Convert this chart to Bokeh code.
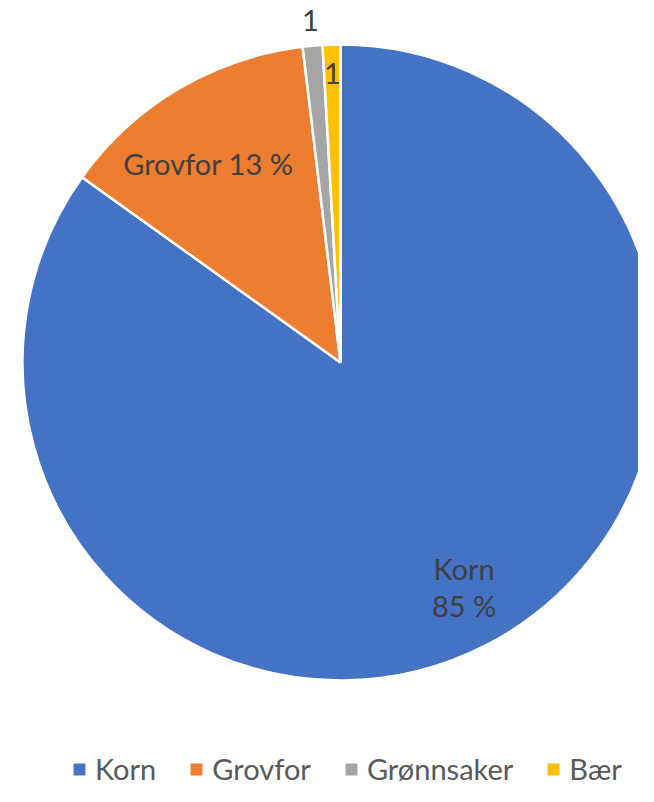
import math
from bokeh.plotting import figure
from bokeh.models import ColumnDataSource, Range1d, Legend, LegendItem
from bokeh.core.properties import value
from bokeh.embed import file_html
from bokeh.resources import INLINE

# ---- data ----
categories = ["Korn", "Grovfor", "Grønnsaker", "Bær"]
shares = [84.9, 13.2, 1.0, 0.9]
labels = ["Korn\n85 %", "Grovfor 13 %", "1", "1"]

# ---- style ----
colors = ["#4472C4", "#ED7D31", "#A5A5A5", "#FFC000"]
label_radius = [0.805, 0.751, 1.08, 0.91]
label_shift_deg = [-1.7, -3.0, 0.0, 0.0]
CX, CY, R = 340, 440, 318

total = sum(shares)
starts, ends, mids = [], [], []
cum = 0.0
for s in shares:
    a0 = cum / total * 2 * math.pi
    cum += s
    a1 = cum / total * 2 * math.pi
    starts.append(math.pi / 2 - a1)
    ends.append(math.pi / 2 - a0)
    mids.append((a0 + a1) / 2)

lx, ly = [], []
for f, m, sh in zip(label_radius, mids, label_shift_deg):
    a = m + math.radians(sh)
    lx.append(CX + f * R * math.sin(a))
    ly.append(CY + f * R * math.cos(a))

src = ColumnDataSource(dict(cat=categories, share=shares, start=starts, end=ends,
                            color=colors))
lsrc = ColumnDataSource(dict(x=lx, y=ly, text=labels))

p = figure(width=638, height=786, x_range=Range1d(0, 638), y_range=Range1d(16, 802),
           x_axis_type=None, y_axis_type=None, toolbar_location=None,
           output_backend="svg", min_border=0, outline_line_color=None)
p.grid.visible = False
p.background_fill_color = "white"
p.border_fill_color = "white"

r = p.wedge(x=CX, y=CY, radius=R, start_angle="start", end_angle="end",
            direction="anticlock", fill_color="color", line_color="white",
            line_width=2.5, source=src)

p.text(x="x", y="y", text="text", source=lsrc, text_font=value("Lato"),
       text_font_size="29px", text_color="#404040", text_align="center",
       text_baseline="middle", text_line_height=1.05)

items = [LegendItem(label=c, renderers=[r], index=i) for i, c in enumerate(categories)]
legend = Legend(items=items, orientation="horizontal", location=(70, 0),
                label_text_font="Lato", label_text_font_size="29px",
                label_text_color="#595959", glyph_width=18, glyph_height=18,
                label_standoff=7, spacing=31, padding=0, margin=0,
                border_line_color=None, background_fill_alpha=0)
p.add_layout(legend)

open("out.html", "w").write(file_html(p, INLINE))
